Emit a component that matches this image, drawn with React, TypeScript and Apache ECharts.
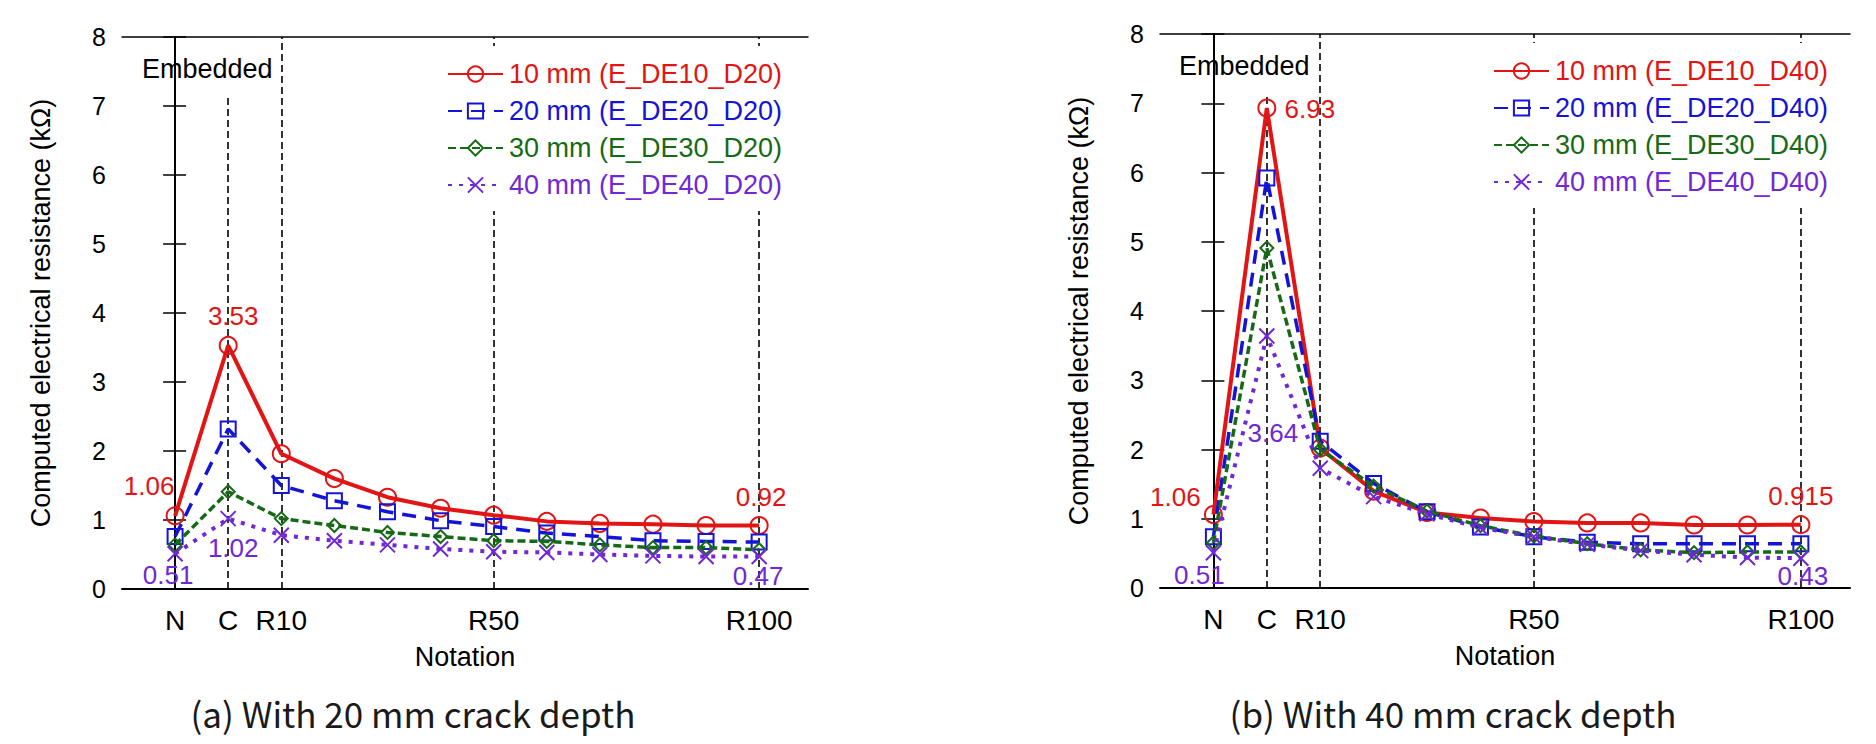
import React, { useEffect, useRef } from "react";
import * as echarts from "echarts";

// Measurement positions along the specimen
const CATEGORIES = ["N", "C", "R10", "R20", "R30", "R40", "R50", "R60", "R70", "R80", "R90", "R100"];
const TICK_LABELS = ["N", "C", "R10", "R50", "R100"];
const Y_TICKS_MAX = 8;

// (a) 20 mm crack depth
const A_NAMES = ["10 mm (E_DE10_D20)", "20 mm (E_DE20_D20)", "30 mm (E_DE30_D20)", "40 mm (E_DE40_D20)"];
const A_DE10 = [1.06, 3.53, 1.96, 1.6, 1.33, 1.17, 1.07, 0.98, 0.95, 0.94, 0.92, 0.92];
const A_DE20 = [0.76, 2.32, 1.5, 1.28, 1.12, 0.99, 0.905, 0.81, 0.76, 0.7, 0.69, 0.68];
const A_DE30 = [0.64, 1.41, 1.02, 0.92, 0.82, 0.76, 0.7, 0.69, 0.64, 0.6, 0.6, 0.57];
const A_DE40 = [0.51, 1.02, 0.78, 0.7, 0.64, 0.58, 0.54, 0.53, 0.5, 0.48, 0.47, 0.47];

// (b) 40 mm crack depth
const B_NAMES = ["10 mm (E_DE10_D40)", "20 mm (E_DE20_D40)", "30 mm (E_DE30_D40)", "40 mm (E_DE40_D40)"];
const B_DE10 = [1.06, 6.93, 2.02, 1.4, 1.09, 1.01, 0.96, 0.94, 0.94, 0.91, 0.91, 0.915];
const B_DE20 = [0.74, 5.92, 2.12, 1.51, 1.1, 0.88, 0.74, 0.66, 0.64, 0.64, 0.64, 0.64];
const B_DE30 = [0.65, 4.91, 2.0, 1.47, 1.11, 0.9, 0.75, 0.64, 0.55, 0.51, 0.52, 0.52];
const B_DE40 = [0.51, 3.64, 1.73, 1.32, 1.07, 0.87, 0.74, 0.63, 0.54, 0.48, 0.44, 0.43];

// Annotated points: [series index, category, dx, dy]
const A_NOTES: [number, string, number, number][] = [
  [0, "N", -26, -30],
  [0, "C", 5, -29],
  [0, "R100", 2, -29],
  [3, "N", -7, 21],
  [3, "C", 5, 29],
  [3, "R100", -1, 19],
];
const B_NOTES: [number, string, number, number][] = [
  [0, "N", -38, -18],
  [0, "C", 43, 1],
  [0, "R100", 0, -29],
  [3, "N", -14, 22],
  [3, "C", 6, 97],
  [3, "R100", 2, 18],
];

const COLORS = ["#e21414", "#1414d6", "#166a16", "#7028d6"];
const FONT = '"Liberation Sans", Arial, sans-serif';
const CAPTION_FONT = '"Noto Sans CJK SC", "Noto Sans", sans-serif';
const X_MIN = -1;
const X_MAX = 11.92;

const SYMBOLS = ["circle", "rect", "diamond", "path://M0,0L20,20M20,0L0,20"];
const SYMBOL_SIZES = [17, 15, 13, 15];
const LINE_WIDTHS = [4, 3.5, 3.5, 4];
const LINE_TYPES: any[] = ["solid", [14, 9], [8, 4], [4, 7]];

function buildSeries(names: string[], values: number[][], notes: [number, string, number, number][], axisIdx: number) {
  return values.map((vals, si) => ({
    type: "line",
    name: names[si],
    xAxisIndex: axisIdx,
    yAxisIndex: axisIdx,
    z: 3 + si,
    symbol: SYMBOLS[si],
    symbolSize: SYMBOL_SIZES[si],
    showSymbol: true,
    showAllSymbol: true,
    lineStyle: { color: COLORS[si], width: LINE_WIDTHS[si], type: LINE_TYPES[si], cap: "butt" },
    itemStyle: { color: "rgba(255,255,255,0)", borderColor: COLORS[si], borderWidth: 2 },
    emphasis: { disabled: true },
    data: vals.map((v, i) => {
      const note = notes.find((n) => n[0] === si && CATEGORIES.indexOf(n[1]) === i);
      const item: any = { value: [i, v] };
      if (note) {
        item.label = {
          show: true,
          position: "inside",
          offset: [note[2], note[3]],
          formatter: (p: any) => String(p.value[1]),
          color: COLORS[si],
          fontFamily: FONT,
          fontSize: 26,
        };
      }
      return item;
    }),
  }));
}

function guideSeries(axisIdx: number) {
  const dash = { color: "#000", width: 1.6, type: [7, 4] };
  const ci = (c: string) => CATEGORIES.indexOf(c);
  return {
    type: "line",
    xAxisIndex: axisIdx,
    yAxisIndex: axisIdx,
    data: [],
    silent: true,
    markLine: {
      silent: true,
      z: 1,
      symbol: ["none", "none"],
      label: { show: false },
      lineStyle: dash,
      emphasis: { disabled: true },
      data: [
        [{ coord: [ci("N"), 0] }, { coord: [ci("N"), 7.13] }],
        [{ coord: [ci("C"), 0] }, { coord: [ci("C"), 7.13] }],
        [{ coord: [ci("R10"), 0] }, { coord: [ci("R10"), Y_TICKS_MAX] }],
        [{ coord: [ci("R50"), 0] }, { coord: [ci("R50"), Y_TICKS_MAX] }],
        [{ coord: [ci("R100"), 0] }, { coord: [ci("R100"), Y_TICKS_MAX] }],
      ],
    },
  };
}

function xAxes(gridIndex: number) {
  return [
    {
      type: "value",
      gridIndex,
      position: "bottom",
      min: X_MIN,
      max: X_MAX,
      interval: 1,
      name: "Notation",
      nameLocation: "middle",
      nameGap: 54,
      nameTextStyle: { color: "#000", fontFamily: FONT, fontSize: 27 },
      axisLine: { show: true, onZero: false, lineStyle: { color: "#000", width: 2 } },
      axisTick: { show: false },
      splitLine: { show: false },
      axisLabel: {
        show: true,
        margin: 17,
        color: "#000",
        fontFamily: FONT,
        fontSize: 28,
        showMinLabel: true,
        showMaxLabel: true,
        formatter: (v: number) => {
          const r = Math.round(v);
          if (Math.abs(v - r) > 1e-6) return "";
          const c = CATEGORIES[r];
          return c && TICK_LABELS.includes(c) ? c : "";
        },
      },
    },
    {
      type: "value",
      gridIndex,
      position: "top",
      min: X_MIN,
      max: X_MAX,
      interval: 1,
      axisLine: { show: true, onZero: false, lineStyle: { color: "#000", width: 1.5 } },
      axisTick: { show: false },
      axisLabel: { show: false },
      splitLine: { show: false },
    },
  ];
}

function yAxes(gridIndex: number) {
  return [
    {
      type: "value",
      gridIndex,
      position: "left",
      min: 0,
      max: Y_TICKS_MAX,
      interval: 1,
      name: "Computed electrical resistance (kΩ)",
      nameLocation: "middle",
      nameRotate: 90,
      nameGap: 68,
      nameTextStyle: { color: "#000", fontFamily: FONT, fontSize: 27 },
      axisLine: { show: true, lineStyle: { color: "#000", width: 2 } },
      axisTick: { show: true, inside: true, length: 11, lineStyle: { color: "#000", width: 1.5 } },
      splitLine: { show: false },
      axisLabel: { margin: 16, color: "#000", fontFamily: FONT, fontSize: 25 },
    },
    {
      type: "value",
      gridIndex,
      position: "right",
      min: 0,
      max: Y_TICKS_MAX,
      interval: 1,
      axisLine: { show: true, lineStyle: { color: "#000", width: 2 } },
      axisTick: { show: true, inside: true, length: 12, lineStyle: { color: "#000", width: 1.5 } },
      splitLine: { show: false },
      axisLabel: { show: false },
    },
  ];
}

function legend(names: string[], left: number, top: number) {
  return {
    orient: "vertical",
    left,
    top,
    padding: [14, 6, 12, 6],
    backgroundColor: "#fff",
    itemWidth: 55,
    itemHeight: 19,
    itemGap: 9,
    selectedMode: false,
    z: 10,
    textStyle: { fontFamily: FONT, fontSize: 27, lineHeight: 28, padding: [0, 0, 0, 1] },
    data: names.map((n, i) => ({ name: n, textStyle: { color: COLORS[i] } })),
  };
}

export default function App() {
  const ref = useRef<HTMLDivElement>(null);

  useEffect(() => {
    if (!ref.current) return;
    const chart = echarts.init(ref.current, null, { renderer: "svg" });

    const option: any = {
      animation: false,
      backgroundColor: "#fff",
      grid: [
        { left: 122, top: 37, width: 686, height: 552 },
        { left: 1160, top: 34, width: 690, height: 554 },
      ],
      xAxis: [...xAxes(0), ...xAxes(1)],
      yAxis: [...yAxes(0), ...yAxes(1)],
      legend: [legend(A_NAMES, 441, 46), legend(B_NAMES, 1487, 43)],
      series: [
        guideSeries(0),
        ...buildSeries(A_NAMES, [A_DE10, A_DE20, A_DE30, A_DE40], A_NOTES, 0),
        guideSeries(2),
        ...buildSeries(B_NAMES, [B_DE10, B_DE20, B_DE30, B_DE40], B_NOTES, 2),
      ],
      graphic: [
        {
          type: "text",
          left: 142,
          top: 55,
          z: 20,
          style: { text: "Embedded", fill: "#000", font: `27px ${FONT}` },
        },
        {
          type: "text",
          left: 1179,
          top: 52,
          z: 20,
          style: { text: "Embedded", fill: "#000", font: `27px ${FONT}` },
        },
        {
          type: "text",
          x: 413,
          y: 712,
          z: 20,
          style: {
            text: "(a) With 20 mm crack depth",
            fill: "#1a1a1a",
            font: `35px ${CAPTION_FONT}`,
            align: "center",
            verticalAlign: "middle",
          },
        },
        {
          type: "text",
          x: 1453,
          y: 712,
          z: 20,
          style: {
            text: "(b) With 40 mm crack depth",
            fill: "#1a1a1a",
            font: `35px ${CAPTION_FONT}`,
            align: "center",
            verticalAlign: "middle",
          },
        },
      ],
    };

    chart.setOption(option);
    return () => chart.dispose();
  }, []);

  return (
    <div
      ref={ref}
      style={{ position: "absolute", left: 0, top: 0, width: 1876, height: 744, background: "#fff" }}
    />
  );
}
